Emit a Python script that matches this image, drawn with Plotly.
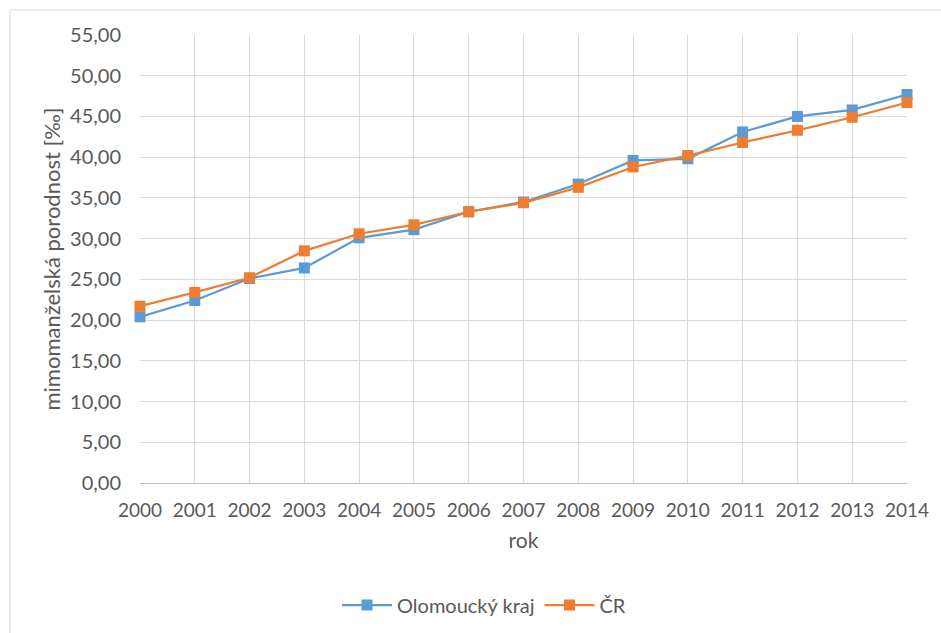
import plotly.graph_objects as go

years = list(range(2000, 2015))
olomoucky = [20.4, 22.4, 25.1, 26.4, 30.1, 31.1, 33.3, 34.5, 36.7, 39.6, 39.8, 43.1, 45.0, 45.8, 47.7]
cr = [21.7, 23.4, 25.2, 28.5, 30.6, 31.7, 33.3, 34.4, 36.3, 38.8, 40.2, 41.8, 43.3, 44.9, 46.7]
y_ticks = [0, 5, 10, 15, 20, 25, 30, 35, 40, 45, 50, 55]

FONT = "Lato"
TXT = "#595959"

# margins in pixels; plot box spans x 140..907, y 35..483
L, R, T, B = 140, 34, 35, 150
W, H = 941, 633
pw, ph = W - L - R, H - T - B

def px_x(px):
    return (px - L) / pw

def px_y(py):
    return (H - B - py) / ph

fig = go.Figure()
fig.add_trace(go.Scatter(
    x=years, y=olomoucky, name="Olomoucký kraj", mode="lines+markers",
    line=dict(color="#5B9BD5", width=2.25),
    marker=dict(symbol="square", size=11, color="#5B9BD5"),
    cliponaxis=False,
))
fig.add_trace(go.Scatter(
    x=years, y=cr, name="ČR", mode="lines+markers",
    line=dict(color="#ED7D31", width=2.25),
    marker=dict(symbol="square", size=11, color="#ED7D31"),
    cliponaxis=False,
))

fig.update_layout(
    width=W, height=H,
    margin=dict(l=L, r=R, t=T, b=B, autoexpand=False),
    paper_bgcolor="white", plot_bgcolor="white",
    separators=", ",
    font=dict(family=FONT, size=20, color=TXT),
    showlegend=True,
    legend=dict(orientation="h", x=px_x(484), xanchor="center",
                y=px_y(605), yanchor="middle",
                font=dict(family=FONT, size=20, color=TXT),
                itemwidth=50),
    xaxis=dict(
        range=[2000, 2014], tickmode="array", tickvals=years,
        ticktext=[str(y) for y in years],
        showgrid=True, gridcolor="#D9D9D9", gridwidth=1,
        showline=True, linecolor="#BFBFBF", linewidth=1,
        ticks="outside", ticklen=10, tickcolor="rgba(0,0,0,0)",
        tickfont=dict(family=FONT, size=19, color=TXT),
        title=dict(text="rok", standoff=13, font=dict(family=FONT, size=21, color=TXT)),
        zeroline=False, mirror=False,
    ),
    yaxis=dict(
        range=[0, 55], tickmode="array", tickvals=y_ticks, tickformat=".2f",
        showgrid=True, gridcolor="#D9D9D9", gridwidth=1,
        showline=False, zeroline=False,
        ticks="outside", ticklen=14, tickcolor="rgba(0,0,0,0)",
        tickfont=dict(family=FONT, size=20, color=TXT),
        title=dict(text="mimomanželská porodnost [‰]", standoff=3,
                   font=dict(family=FONT, size=22, color=TXT)),
    ),
    shapes=[dict(
        type="rect", xref="paper", yref="paper",
        x0=px_x(10), x1=px_x(960), y0=px_y(660), y1=px_y(10),
        line=dict(color="#D9D9D9", width=1), fillcolor="rgba(0,0,0,0)",
        layer="below",
    )],
)

fig.write_html("out.html")
